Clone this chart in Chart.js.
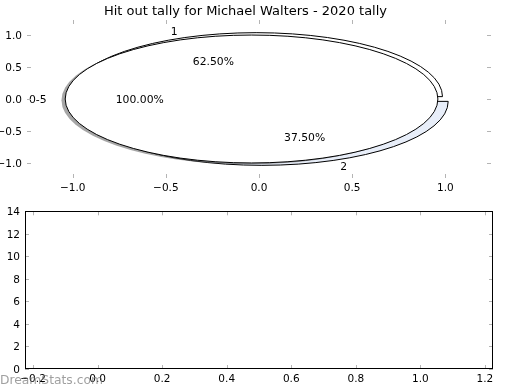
<!DOCTYPE html>
<html>
<head>
<meta charset="utf-8">
<script src="https://cdn.jsdelivr.net/npm/chart.js@4.4.1/dist/chart.umd.min.js"></script>
<style>
  body { margin: 0; background: #fff; }
  #wrap { position: relative; width: 520px; height: 390px; }
  canvas { position: absolute; left: 0; }
  #pie { top: 0; }
  #hist { top: 200px; }
</style>
</head>
<body>
<div id="wrap">
  <canvas id="pie" width="520" height="200"></canvas>
  <canvas id="hist" width="520" height="190"></canvas>
</div>
<script>
const chartTitle = "Hit out tally for Michael Walters - 2020 tally";

// first pie (hit outs per game)
const innerLabels = ["1", "2"];
const innerValues = [5, 3];
// second pie (bucket), drawn on top with a shadow
const outerLabels = ["0-5"];
const outerValues = [8];
const explodeBy = 0.04;

const pieXTicks = [-1, -0.5, 0, 0.5, 1];
const pieYTicks = [-1, -0.5, 0, 0.5, 1];
const histXTicks = [-0.2, 0, 0.2, 0.4, 0.6, 0.8, 1.0, 1.2];
const histYTicks = [0, 2, 4, 6, 8, 10, 12, 14];

const innerColors = ["#ffffff", "#e8eef9"];
const outerColors = ["#ffffff"];
const FONT = "DejaVu Sans";

function fmt(v, digits){
    return (v < 0 ? "\u2212" : "") + Math.abs(v).toFixed(digits);
}

function axisOpts(min, max, ticks, digits, fit, pad, vertical){
    return {
        type: "linear",
        min: min,
        max: max,
        afterBuildTicks: s => { s.ticks = ticks.map(v => ({value: v})); },
        afterFit: fit,
        grid: {display: false, drawTicks: false},
        border: {display: false},
        ticks: {
            padding: pad,
            labelOffset: vertical ? 1 : 0,
            color: "#000",
            autoSkip: false,
            maxRotation: 0,
            font: {family: FONT, size: 10.5},
            callback: v => fmt(v, digits)
        }
    };
}

// little inward tick marks on all four sides, like the original
function drawTickMarks(chart, frame){
    const {ctx, chartArea: a, scales: {x, y}} = chart;
    ctx.save();
    ctx.strokeStyle = "#b4b4b4";
    ctx.lineWidth = 1;
    ctx.beginPath();
    x.ticks.forEach(t => {
        const px = Math.round(x.getPixelForValue(t.value)) + 0.5;
        ctx.moveTo(px, a.bottom); ctx.lineTo(px, a.bottom - 4);
        ctx.moveTo(px, a.top); ctx.lineTo(px, a.top + 4);
    });
    y.ticks.forEach(t => {
        const py = Math.round(y.getPixelForValue(t.value)) + 0.5;
        ctx.moveTo(a.left, py); ctx.lineTo(a.left + 4, py);
        ctx.moveTo(a.right, py); ctx.lineTo(a.right - 4, py);
    });
    ctx.stroke();
    if(frame){
        ctx.strokeStyle = "#000";
        ctx.strokeRect(Math.round(a.left) + 0.5, Math.round(a.top) + 0.5,
            Math.round(a.width) - 1, Math.round(a.height) - 1);
    }
    ctx.restore();
}

function drawPie(chart, values, labels, colors, shadow, texts){
    const {ctx, scales: {x, y}} = chart;
    const total = values.reduce((s, v) => s + v, 0);
    const rx = x.getPixelForValue(1) - x.getPixelForValue(0);
    const ry = y.getPixelForValue(0) - y.getPixelForValue(1);
    let start = 0;
    const wedges = values.map((v, i) => {
        const end = start + v / total * 2 * Math.PI;
        const mid = (start + end) / 2;
        const w = {
            start, end, mid,
            cx: explodeBy * Math.cos(mid),
            cy: explodeBy * Math.sin(mid),
            color: colors[i],
            label: labels[i],
            pct: (v / total * 100).toFixed(2) + "%"
        };
        start = end;
        return w;
    });
    const path = (w, dx, dy) => {
        const px = x.getPixelForValue(w.cx + dx);
        const py = y.getPixelForValue(w.cy + dy);
        ctx.beginPath();
        if(w.end - w.start > 2 * Math.PI - 1e-9){
            ctx.ellipse(px, py, rx, ry, 0, 0, 2 * Math.PI);
        } else {
            ctx.moveTo(px, py);
            ctx.ellipse(px, py, rx, ry, 0, -w.start, -w.end, true);
            ctx.closePath();
        }
    };
    if(shadow){
        wedges.forEach(w => {
            path(w, -0.02, -0.02);
            ctx.fillStyle = "rgba(77,77,77,0.5)";
            ctx.fill();
        });
    }
    wedges.forEach(w => {
        path(w, 0, 0);
        ctx.fillStyle = w.color;
        ctx.fill();
        ctx.strokeStyle = "#000";
        ctx.lineWidth = 1;
        ctx.stroke();
    });
    wedges.forEach(w => {
        const lx = w.cx + 1.1 * Math.cos(w.mid);
        const ly = w.cy + 1.1 * Math.sin(w.mid);
        texts.push({x: x.getPixelForValue(lx), y: y.getPixelForValue(ly), text: w.label, align: lx < 0 ? "right" : "left"});
        const tx = w.cx + 0.6 * Math.cos(w.mid);
        const ty = w.cy + 0.6 * Math.sin(w.mid);
        texts.push({x: x.getPixelForValue(tx), y: y.getPixelForValue(ty), text: w.pct, align: "center"});
    });
}

const piePlugin = {
    id: "pies",
    afterDatasetsDraw(chart){
        const {ctx, chartArea: a} = chart;
        const texts = [];
        ctx.save();
        ctx.beginPath();
        ctx.rect(a.left, a.top, a.width, a.height);
        ctx.clip();
        drawPie(chart, innerValues, innerLabels, innerColors, false, texts);
        drawPie(chart, outerValues, outerLabels, outerColors, true, texts);
        ctx.restore();

        ctx.save();
        ctx.font = `10.8px "${FONT}"`;
        ctx.fillStyle = "#000";
        ctx.textBaseline = "middle";
        texts.forEach(t => {
            ctx.textAlign = t.align;
            ctx.fillText(t.text, t.x, t.y + 1);
        });
        ctx.restore();
        drawTickMarks(chart, false);
    }
};

const histPlugin = {
    id: "histFrame",
    afterDraw(chart){
        drawTickMarks(chart, true);
        const ctx = chart.ctx;
        ctx.save();
        ctx.font = `12.3px "${FONT}"`;
        ctx.fillStyle = "rgba(120,120,120,0.7)";
        ctx.textAlign = "left";
        ctx.textBaseline = "middle";
        ctx.fillText("DreamStats.com", 0, 181);
        ctx.restore();
    }
};

new Chart(document.getElementById("pie"), {
    type: "scatter",
    data: {datasets: [{data: []}]},
    options: {
        responsive: false,
        animation: false,
        layout: {padding: {left: 0, right: 29, top: 0, bottom: 0}},
        plugins: {
            legend: {display: false},
            tooltip: {enabled: false},
            title: {
                display: true,
                text: chartTitle,
                color: "#000",
                font: {family: FONT, size: 13, weight: "normal"},
                padding: {top: 3.6, bottom: 0.8}
            }
        },
        scales: {
            x: axisOpts(-1.245, 1.245, pieXTicks, 1, s => { s.height = 22; }, 4, false),
            y: axisOpts(-1.235, 1.235, pieYTicks, 1, s => { s.width = 27; }, 5, true)
        }
    },
    plugins: [piePlugin]
});

new Chart(document.getElementById("hist"), {
    type: "scatter",
    data: {datasets: [{data: []}]},
    options: {
        responsive: false,
        animation: false,
        layout: {padding: {left: 0, right: 27, top: 10, bottom: 0}},
        plugins: {
            legend: {display: false},
            tooltip: {enabled: false}
        },
        scales: {
            x: axisOpts(-0.225, 1.225, histXTicks, 1, s => { s.height = 21; }, 4, false),
            y: axisOpts(0, 14, histYTicks, 0, s => { s.width = 25; }, 5, true)
        }
    },
    plugins: [histPlugin]
});
</script>
</body>
</html>
